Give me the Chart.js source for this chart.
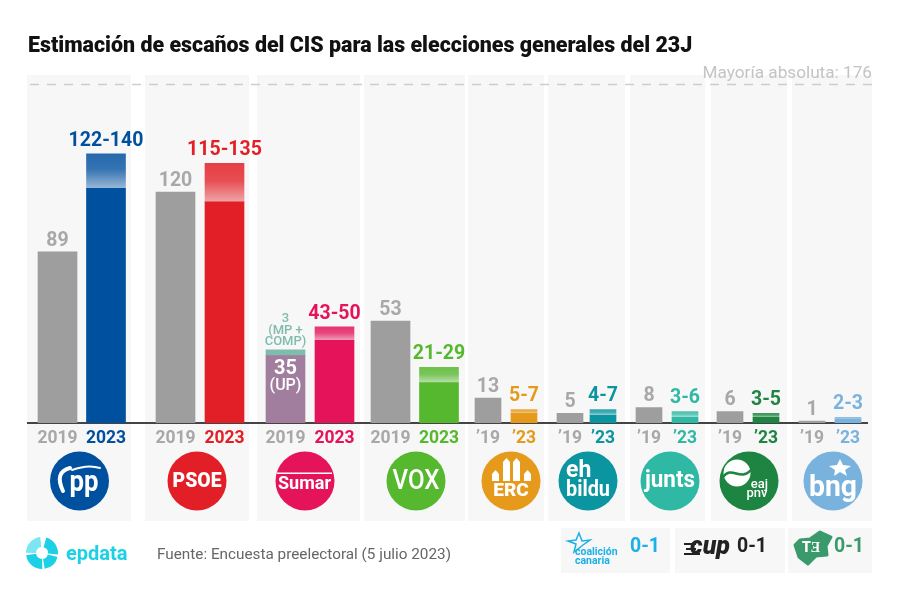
<!DOCTYPE html>
<html lang="es">
<head>
<meta charset="UTF-8">
<title>Estimación de escaños del CIS</title>
<style>
    body { margin: 0; background: #fff; font-family: Roboto, sans-serif; }
    #wrap { position: relative; width: 900px; height: 601px; overflow: hidden; }
    canvas { position: absolute; left: 0; top: 0; }
    h1 { position: absolute; left: 28px; top: 33px; margin: 0; font-size: 21.4px; line-height: 24px; font-weight: 900; color: #111; white-space: nowrap; }
    #absolute { position: absolute; right: 28px; top: 62px; font-size: 17.2px; line-height: 20px; color: #c4c4c4; }
    #source { position: absolute; left: 157px; top: 545px; font-size: 15.3px; line-height: 18px; color: #666; white-space: nowrap; }
    #brand { position: absolute; left: 66px; top: 539px; font-size: 20px; line-height: 28px; font-weight: 700; color: #1cd0e6; }
</style>
</head>
<body>
<div id="wrap">
    <canvas id="seats" width="900" height="601"></canvas>
    <h1>Estimación de escaños del CIS para las elecciones generales del 23J</h1>
    <div id="absolute">Mayoría absoluta: 176</div>
    <div id="brand">epdata</div>
    <div id="source">Fuente: Encuesta preelectoral (5 julio 2023)</div>
</div>
<script src="https://cdn.jsdelivr.net/npm/chart.js@4"></script>
<script>
// data
const parties = ["PP", "PSOE", "Sumar", "VOX", "ERC", "EH Bildu", "Junts", "PNV", "BNG"];
const seats2019 = [89, 120, 35, 53, 13, 5, 8, 6, 1];
const low2023 = [122, 115, 43, 21, 5, 4, 3, 3, 2];
const high2023 = [140, 135, 50, 29, 7, 7, 6, 5, 3];
const sumarOthers2019 = 3;
const majority = 176;
const yearLabels = ["2019", "2023", "2019", "2023", "2019", "2023", "2019", "2023",
    "\u201919", "\u201923", "\u201919", "\u201923", "\u201919", "\u201923", "\u201919", "\u201923", "\u201919", "\u201923"];

// layout: slots on the x axis (axis runs 0-900), two per party
const barSlots = [57.5, 106, 175.5, 224.5, 285.5, 334.5, 390.5, 439, 488, 524, 570, 603, 649, 685, 730, 766, 812, 848];
const partyColours = ["#0050a0", "#e21f26", "#e5135a", "#55b82e", "#e59a1b", "#0b95a0", "#2fb9a5", "#1d8441", "#7ab2de"];
const grey = "#9e9e9e";
const greyText = "#a8a8a8";
const purple = "#a17e9e";
const teal = "#7fbcae";
const panel = "#f7f7f7";

function rangeFill(i) {
    return function (ctx) {
        const y = ctx.chart.scales.y;
        const top = y ? y.getPixelForValue(high2023[i]) : NaN;
        const bottom = y ? y.getPixelForValue(low2023[i]) : NaN;
        // options also get resolved before the first layout
        if (!isFinite(top) || !isFinite(bottom)) return partyColours[i];
        const g = ctx.chart.ctx.createLinearGradient(0, top, 0, bottom);
        g.addColorStop(0, partyColours[i] + "d9");
        g.addColorStop(0.45, partyColours[i] + "c8");
        g.addColorStop(1, partyColours[i] + "60");
        return g;
    };
}

const datasets = [];
parties.forEach(function (name, i) {
    const width = i < 4 ? 39 : 26;
    const x19 = barSlots[i * 2], x23 = barSlots[i * 2 + 1];
    datasets.push({ label: name + " 2019", data: [{ x: x19, y: seats2019[i] }], backgroundColor: name === "Sumar" ? purple : grey, barThickness: width, grouped: false });
    datasets.push({ label: name + " 2023", data: [{ x: x23, y: low2023[i] }], backgroundColor: partyColours[i], barThickness: width, grouped: false });
    datasets.push({ label: name + " 2023 rango", data: [{ x: x23, y: [low2023[i], high2023[i]] }], backgroundColor: rangeFill(i), barThickness: width, grouped: false });
    if (name === "Sumar") {
        datasets.push({ label: "MP + COMP 2019", data: [{ x: x19, y: [seats2019[i], seats2019[i] + sumarOthers2019] }], backgroundColor: teal, barThickness: width, grouped: false });
    }
});
datasets.push({ type: "line", label: "Mayoría", data: [{ x: 30, y: majority }, { x: 872, y: majority }], borderColor: "#cdcdcd", borderWidth: 1.5, borderDash: [9, 8], pointRadius: 0, clip: false });
datasets.push({ type: "line", label: "Base", data: [{ x: 27, y: 0 }, { x: 868, y: 0 }], borderColor: "#444", borderWidth: 2, pointRadius: 0, clip: false });

function text(c, str, x, y, font, colour, align, maxWidth) {
    c.font = font;
    c.fillStyle = colour;
    c.textAlign = align || "center";
    c.textBaseline = "middle";
    if (maxWidth) c.fillText(str, x, y, maxWidth);
    else c.fillText(str, x, y);
}

function box(c, x0, y0, x1, y1, colour) {
    c.fillStyle = colour;
    c.fillRect(x0, y0, x1 - x0, y1 - y0);
}

function disc(c, x, y, r, colour) {
    c.fillStyle = colour;
    c.beginPath();
    c.arc(x, y, r, 0, Math.PI * 2);
    c.fill();
}

function outline(c, points) {
    c.beginPath();
    points.forEach(function (p, k) {
        if (k) c.lineTo(p[0], p[1]); else c.moveTo(p[0], p[1]);
    });
    c.closePath();
}

const backdrop = {
    id: "backdrop",
    beforeDraw(chart) {
        const c = chart.ctx;
        [[27, 131], [145, 249], [257, 360], [364, 465], [468, 544], [548, 625], [630, 705], [711, 787], [792, 872]].forEach(function (p) {
            box(c, p[0], 75, p[1], 521, panel);
        });
        box(c, 561, 528, 670, 573, panel);
        box(c, 675, 528, 785, 573, panel);
        box(c, 788, 528, 872, 573, panel);
    }
};

const valueLabels = {
    id: "valueLabels",
    afterDatasetsDraw(chart) {
        const c = chart.ctx, x = chart.scales.x, y = chart.scales.y;
        c.save();
        parties.forEach(function (name, i) {
            const x19 = x.getPixelForValue(barSlots[i * 2]), x23 = x.getPixelForValue(barSlots[i * 2 + 1]);
            if (name === "Sumar") {
                text(c, String(seats2019[i]), x19, y.getPixelForValue(seats2019[i]) + 13, "700 20px Roboto", "#fff");
                text(c, "(UP)", x19, y.getPixelForValue(seats2019[i]) + 30, "500 16px Roboto", "#fff");
                text(c, String(sumarOthers2019), x19, 319, "500 13px Roboto", teal);
                text(c, "(MP +", x19, 331, "500 13px Roboto", teal);
                text(c, "COMP)", x19, 342, "500 13px Roboto", teal);
            } else {
                text(c, String(seats2019[i]), x19, y.getPixelForValue(seats2019[i]) - 11, "700 19.5px Roboto", greyText);
            }
            text(c, low2023[i] + "-" + high2023[i], x23, y.getPixelForValue(high2023[i]) - 13, "700 19.5px Roboto", partyColours[i]);
        });
        c.restore();
    }
};

const logos = {
    id: "logos",
    afterDraw(chart) {
        const c = chart.ctx;
        const white = "#fff";
        const cy = 481, r = 29.5;
        c.save();

        // PP
        disc(c, 79.5, cy, r, partyColours[0]);
        text(c, "pp", 84, 483, "700 30px Roboto", white, "center", 29);
        c.strokeStyle = white;
        c.lineCap = "round";
        c.lineWidth = 4;
        c.beginPath();
        c.moveTo(63, 491);
        c.quadraticCurveTo(54, 472, 70, 468);
        c.stroke();
        c.lineWidth = 2;
        c.beginPath();
        c.moveTo(72, 470);
        c.quadraticCurveTo(88, 464, 100, 468);
        c.stroke();

        // PSOE
        disc(c, 197, cy, r, partyColours[1]);
        text(c, "PSOE", 197, cy + 1, "900 21px Roboto", white, "center", 49);

        // Sumar
        disc(c, 305, cy, r, partyColours[2]);
        box(c, 277, 472.5, 332, 474, white);
        text(c, "Sumar", 304.5, 484, "700 18.5px Roboto", white, "center", 53);

        // VOX
        disc(c, 416, cy, r, partyColours[3]);
        text(c, "VOX", 416, cy + 1, "500 27px Roboto", white, "center", 47);

        // ERC
        disc(c, 511, cy, r, partyColours[4]);
        [[492, 499, 470], [503, 510, 458], [513, 520, 458], [524, 531, 470]].forEach(function (b) {
            c.fillStyle = white;
            outline(c, [[b[0], 481], [b[0], b[2] + 4], [(b[0] + b[1]) / 2, b[2]], [b[1], b[2] + 4], [b[1], 481]]);
            c.fill();
        });
        text(c, "ERC", 511, 491, "900 19px Roboto", white, "center", 39);

        // EH Bildu
        disc(c, 588, cy, r, partyColours[5]);
        text(c, "eh", 566, 471, "700 23px Roboto", white, "left");
        text(c, "bildu", 566, 490, "700 22px Roboto", white, "left", 44);

        // Junts
        disc(c, 670, cy, r, partyColours[6]);
        text(c, "junts", 670, cy, "700 23px Roboto", white, "center", 50);

        // PNV
        disc(c, 749, cy, r, partyColours[7]);
        disc(c, 737, 473, 13.5, white);
        c.strokeStyle = partyColours[7];
        c.lineWidth = 2.5;
        c.beginPath();
        c.moveTo(723, 477);
        c.bezierCurveTo(732, 465, 740, 482, 751, 470);
        c.stroke();
        text(c, "eaj", 768, 485, "500 13px Roboto", white, "right");
        text(c, "pnv", 757, 494, "500 13px Roboto", white);

        // BNG
        disc(c, 833, cy, r, partyColours[8]);
        text(c, "bng", 833, 489, "700 29px Roboto", white, "center", 48);
        c.fillStyle = white;
        outline(c, [[840, 459], [843, 465], [851, 466], [845, 470], [847, 476], [840, 472], [834, 476], [835, 470], [829, 466], [837, 465]]);
        c.fill();

        // epdata mark
        c.lineWidth = 10;
        c.lineCap = "butt";
        [[-1.3, 0.1, "#1cd0e6"], [0.25, 1.4, "#1cd0e6"], [1.55, 3.0, "#1cd0e6"], [3.15, 4.6, "#7be6f2"]].forEach(function (a) {
            c.strokeStyle = a[2];
            c.beginPath();
            c.arc(42, 553, 11, a[0], a[1]);
            c.stroke();
        });

        // Coalición Canaria
        c.strokeStyle = "#1bb0e8";
        c.lineWidth = 1.5;
        outline(c, [[579, 533], [582, 541], [590, 540], [583, 545], [574, 552], [576, 544], [568, 541], [576, 540]]);
        c.stroke();
        text(c, "coalición", 575, 552, "700 10.5px Roboto", "#1bb0e8", "left");
        text(c, "canaria", 575, 561, "700 10.5px Roboto", "#1bb0e8", "left");
        text(c, "0-1", 645, 547, "700 19.5px Roboto", "#1bb0e8");

        // CUP
        text(c, "cup", 710, 548, "italic 900 25px Roboto", "#222");
        box(c, 684, 543, 696, 545, "#222");
        box(c, 686, 548, 696, 550, "#222");
        box(c, 684, 553, 700, 555, "#222");
        text(c, "0-1", 752, 547, "700 19.5px Roboto", "#222");

        // Teruel Existe
        c.fillStyle = "#3b9a6c";
        c.strokeStyle = "#3b9a6c";
        c.lineWidth = 3;
        c.lineJoin = "round";
        outline(c, [[795, 545], [800, 540], [810, 539], [820, 532], [831, 537], [826, 546], [827, 555], [816, 556], [808, 564], [799, 557]]);
        c.fill();
        c.stroke();
        text(c, "T\u018E", 811, 548, "900 14px Roboto", white);
        text(c, "0-1", 849, 547, "700 19.5px Roboto", "#3b9a6c");

        c.restore();
    }
};

new Chart("seats", {
    type: "bar",
    data: { datasets: datasets },
    plugins: [backdrop, valueLabels, logos],
    options: {
        responsive: false,
        animation: false,
        layout: { padding: { top: 84.5 } },
        plugins: { legend: { display: false }, tooltip: { enabled: false } },
        scales: {
            x: {
                type: "linear",
                min: 0,
                max: 900,
                offset: false,
                grid: { display: false },
                border: { display: false },
                afterBuildTicks: function (scale) {
                    scale.ticks = barSlots.map(function (v) { return { value: v }; });
                },
                afterFit: function (scale) { scale.height = 178; },
                ticks: {
                    autoSkip: false,
                    maxRotation: 0,
                    padding: -3,
                    callback: function (v, i) { return yearLabels[i]; },
                    color: function (ctx) { return ctx.index % 2 ? partyColours[(ctx.index - 1) / 2] : greyText; },
                    font: { family: "Roboto", size: 17.5, weight: "700" }
                }
            },
            y: { display: false, min: 0, max: majority }
        }
    }
});
</script>
</body>
</html>
